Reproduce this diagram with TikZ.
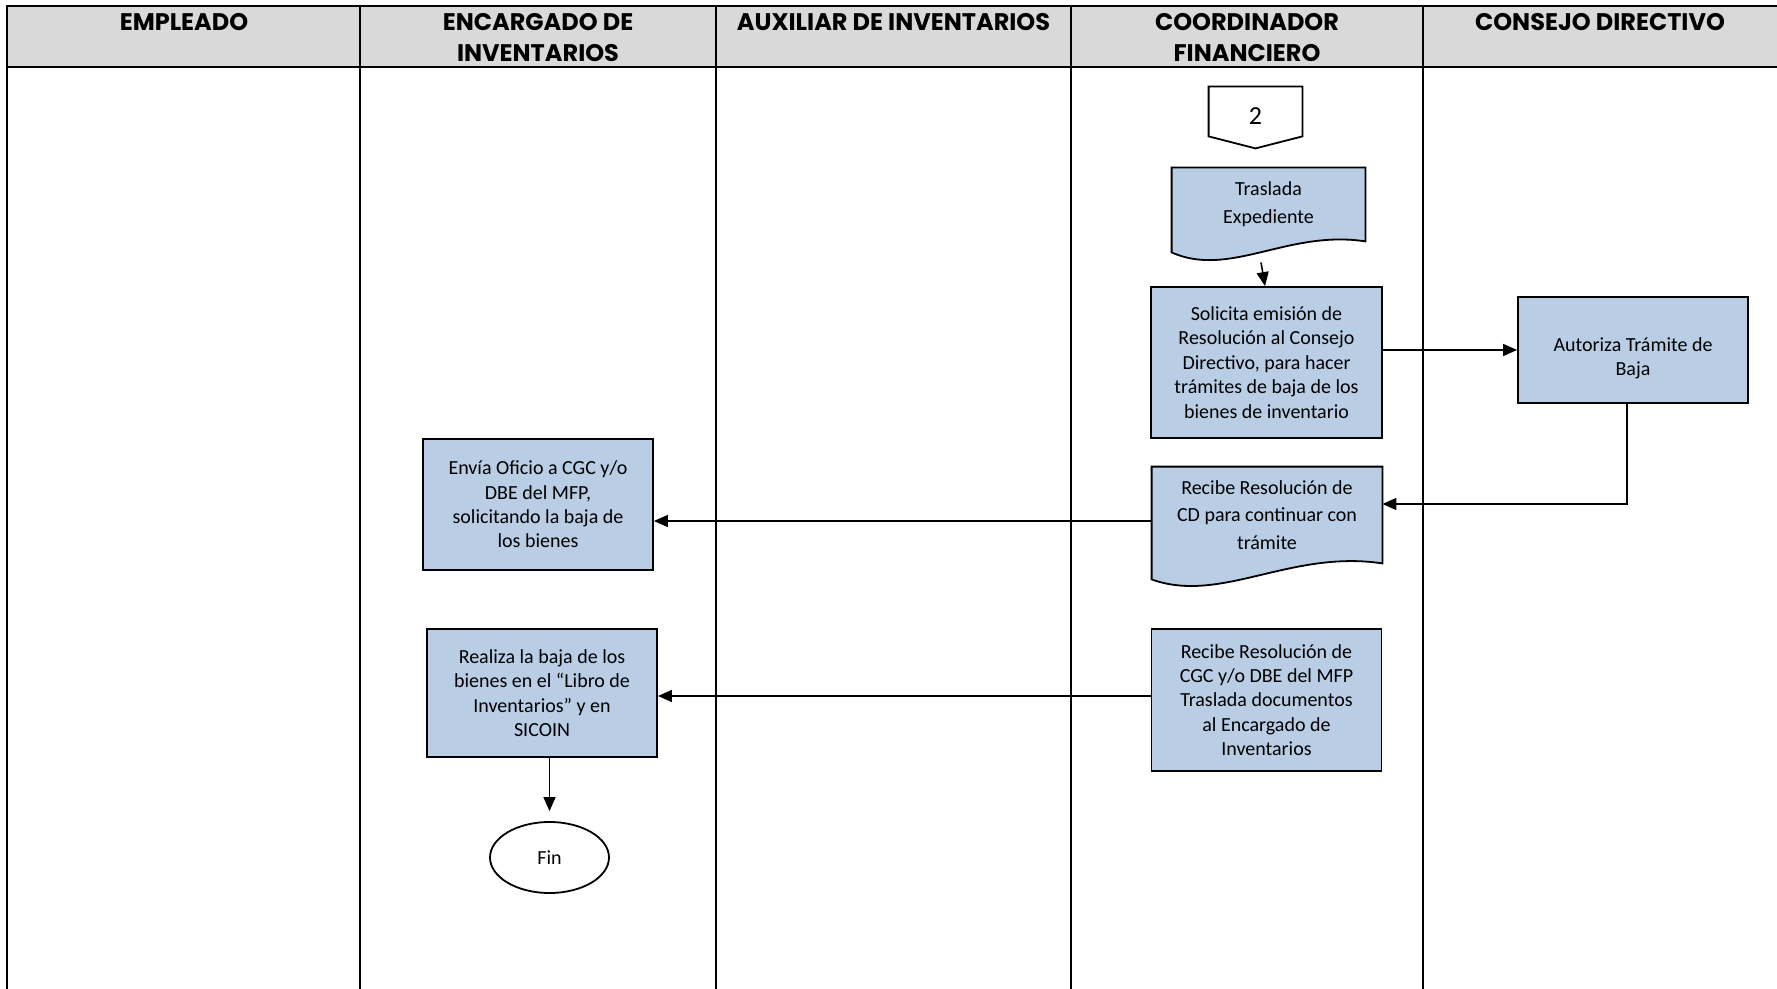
\documentclass[tikz,border=0pt]{standalone}
\usepackage{fontspec}
\setmainfont{Carlito}
\newfontfamily\headfont{Poppins}
\usetikzlibrary{calc,arrows.meta,shapes.geometric,backgrounds}
\definecolor{boxblue}{HTML}{B9CDE5}
\definecolor{headgray}{HTML}{D9D9D9}
\tikzset{
  laneline/.style={draw=black, line width=1pt},
  headtxt/.style={font=\headfont\bfseries\fontsize{12}{15.3}\selectfont, align=center, anchor=north, inner sep=0pt},
  procbox/.style={draw=black, fill=boxblue, line width=0.9pt, align=center, inner sep=0pt, font=\fontsize{10}{12.2}\selectfont},
  doctxt/.style={align=center, inner sep=0pt, font=\fontsize{10}{13.9}\selectfont},
  docline/.style={draw=black, fill=boxblue, line width=0.9pt},
  offpage/.style={inner sep=0pt, font=\fontsize{13}{13}\selectfont},
  endnode/.style={ellipse, draw=black, line width=0.9pt, inner sep=0pt, font=\fontsize{10}{12}\selectfont},
  flow/.style={draw=black, line width=0.75pt, -{Triangle[length=7pt,width=6pt]}},
}

\begin{document}
\begin{tikzpicture}[x=0.5pt,y=-0.5pt]
  \useasboundingbox (0,0) rectangle (1777,989);
  % lanes and header
  \fill[headgray] (7,6) rectangle (1777,67);
  \draw[laneline] (1777,6) -- (7,6) -- (7,989);
  \draw[laneline] (7,67) -- (1777,67);
  \foreach \lx in {360,716,1071,1423}
    \draw[laneline] (\lx,6) -- (\lx,989);
  \node[headtxt] (hEmp) at (184,13.5) {EMPLEADO};
  \node[headtxt] (hEnc) at (538,13.5) {ENCARGADO DE\\INVENTARIOS};
  \node[headtxt] (hAux) at (893.5,13.5) {AUXILIAR DE INVENTARIOS};
  \node[headtxt] (hCoo) at (1247,13.5) {COORDINADOR\\FINANCIERO};
  \node[headtxt] (hCon) at (1600,13.5) {CONSEJO DIRECTIVO};

  % off-page connector
  \node[offpage, minimum width=46.5pt, minimum height=24.5pt] (conn2) at (1255.5,111.5) {\rule{0pt}{13pt}2};
  \draw[line width=0.9pt] (conn2.south west) -- (conn2.north west) -- (conn2.north east)
    -- (conn2.south east) -- ($(conn2.south)+(0,12)$) -- cycle;

  % coordinador financiero
  \node[doctxt, minimum width=96.5pt, minimum height=36.5pt] (tras) at (1268.5,204.5) {Traslada\\Expediente};
  \node[procbox, minimum width=115.5pt, minimum height=75.5pt] (sol) at (1266.5,362.5)
    {Solicita emisión de\\Resolución al Consejo\\Directivo, para hacer\\trámites de baja de los\\bienes de inventario};
  \node[doctxt, minimum width=115pt, minimum height=48pt] (recd) at (1267,515)
    {Recibe Resolución de\\CD para continuar con\\trámite};
  \node[procbox, minimum width=115pt, minimum height=71pt] (cgc) at (1266.5,700)
    {Recibe Resolución de\\CGC y/o DBE del MFP\\Traslada documentos\\al Encargado de\\Inventarios};

  % consejo directivo
  \node[procbox, minimum width=115pt, minimum height=53pt] (aut) at (1633,350)
    {\rule{0pt}{15pt}Autoriza Trámite de\\Baja};

  % encargado de inventarios
  \node[procbox, minimum width=115pt, minimum height=65.5pt] (envia) at (538,504.5)
    {Envía Oficio a CGC y/o\\DBE del MFP,\\solicitando la baja de\\los bienes};
  \node[procbox, minimum width=115pt, minimum height=64pt] (realiza) at (542,693)
    {Realiza la baja de los\\bienes en el “Libro de\\Inventarios” y en\\SICOIN};
  \node[endnode, minimum width=59.5pt, minimum height=35.5pt] (fin) at (549.5,857.5) {Fin};

  % document shapes
  \begin{scope}[on background layer]
    \draw[docline] (tras.south east) -- (tras.north east) -- (tras.north west)
      -- ($(tras.south west)+(0,11)$)
      .. controls ($(tras.south west)!0.3!(tras.south east)+(0,37)$)
      and ($(tras.south west)!0.6!(tras.south east)+(0,-12)$) .. (tras.south east) -- cycle;
    \draw[docline] (recd.south east) -- (recd.north east) -- (recd.north west)
      -- ($(recd.south west)+(0,16)$)
      .. controls ($(recd.south west)!0.3!(recd.south east)+(0,41)$)
      and ($(recd.south west)!0.6!(recd.south east)+(0,-14)$) .. (recd.south east) -- cycle;
  \end{scope}

  % connectors
  \draw[flow] ($(tras.south)+(-7.5,21)$) -- ($(sol.north)+(-1.5,0)$);
  \draw[flow] (sol.east |- aut.west) -- (aut.west);
  \draw[flow] ($(aut.south)+(-6,0)$) |- ($(recd.east)+(0,-11)$);
  \coordinate (m1) at ($(recd.west)+(0,6)$);
  \draw[flow] (m1) -- (m1 -| envia.east);
  \coordinate (m2) at ($(cgc.west)+(0,-4)$);
  \draw[flow] (m2) -- (m2 -| realiza.east);
  \draw[flow] (realiza.south -| fin.north) -- ($(fin.north)+(0,-10)$);
\end{tikzpicture}
\end{document}
